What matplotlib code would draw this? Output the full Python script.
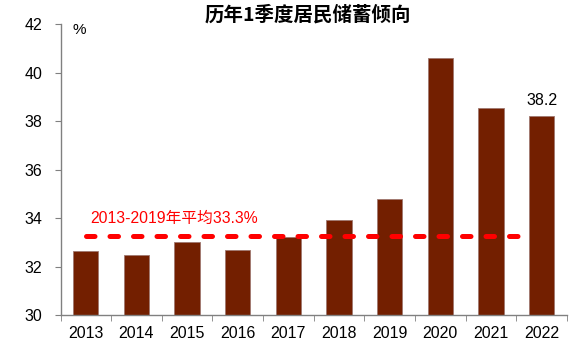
import numpy as np
import matplotlib.pyplot as plt

# datos
years = ['2013', '2014', '2015', '2016', '2017', '2018', '2019', '2020', '2021', '2022']
savings = [32.66, 32.47, 33.02, 32.71, 33.22, 33.93, 34.78, 40.6, 38.54, 38.2]
avg_2013_2019 = 33.26
avg_label = '2013-2019年平均33.3%'
last_label = '38.2'

fonts = ['Liberation Sans', 'Noto Sans CJK SC', 'DejaVu Sans']
plt.rcParams['font.family'] = fonts

fig = plt.figure(figsize=(5.79, 3.51), dpi=100)
ax = fig.add_axes([0.1045, 0.1017, 0.8745, 0.8293])

x = np.arange(len(years))
ax.bar(x, savings, width=0.5, color='#731F00', edgecolor='#A07870', linewidth=0.6, zorder=2)

# linea de promedio
ax.plot([0, 8.8], [avg_2013_2019, avg_2013_2019], color='#FF0000', linewidth=3.6,
        linestyle=(0, (1.7, 3.0)), dash_capstyle='round', zorder=3)
ax.text(0.08, 34.0, avg_label, color='#FF0000', fontsize=11.3, va='center', ha='left')

ax.text(9, savings[-1] + 0.33, last_label, fontsize=11.5, ha='center', va='bottom')
ax.text(-0.26, 41.75, '%', fontsize=11, ha='left', va='center')

fig.suptitle('历年1季度居民储蓄倾向', x=0.532, y=0.985, fontsize=14,
             fontweight='bold', family=['Noto Sans CJK SC', 'DejaVu Sans'], va='top')

ax.set_xlim(-0.5, 9.5)
ax.set_ylim(30, 42)
ax.set_yticks(np.arange(30, 43, 2))
ax.set_xticks(x)
ax.set_xticklabels(years)
ax.set_xticks(np.arange(-0.5, 10, 1), minor=True)

for s in ['top', 'right']:
    ax.spines[s].set_visible(False)
for s in ['left', 'bottom']:
    ax.spines[s].set_color('#808080')
    ax.spines[s].set_linewidth(1.0)

ax.tick_params(axis='y', length=4, color='#808080', labelsize=11.5, pad=9)
ax.tick_params(axis='x', which='major', length=0, labelsize=11.5, pad=8)
ax.tick_params(axis='x', which='minor', length=4, color='#808080')

fig.savefig('out.png', dpi=100)
